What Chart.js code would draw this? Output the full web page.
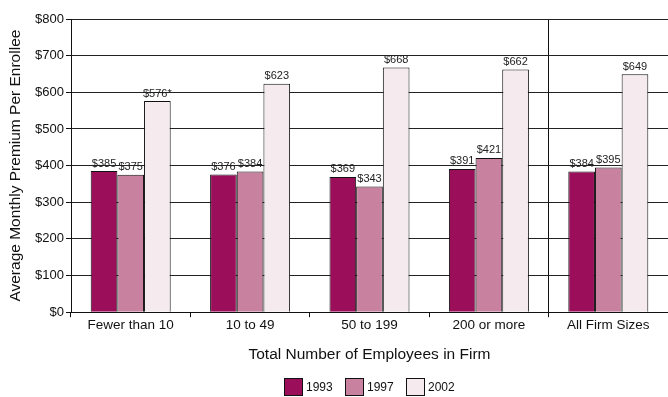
<!DOCTYPE html>
<html>
<head>
<meta charset="utf-8">
<script src="https://cdn.jsdelivr.net/npm/chart.js@4"></script>
<style>
  html, body { margin: 0; padding: 0; background: #fff; }
  #wrap { width: 668px; height: 397px; }
</style>
</head>
<body>
<div id="wrap"><canvas id="c" width="668" height="397"></canvas></div>
<script>
const categories = ['Fewer than 10', '10 to 49', '50 to 199', '200 or more', 'All Firm Sizes'];
const values1993 = [385, 376, 369, 391, 384];
const values1997 = [375, 384, 343, 421, 395];
const values2002 = [576, 623, 668, 662, 649];
const labelSuffix2002 = ['*', '', '', '', ''];
const yTicks = [0, 100, 200, 300, 400, 500, 600, 700, 800];

const FONT = 'Arial, "Liberation Sans", sans-serif';

// Draws "$value" above each bar
const valueLabels = {
  id: 'valueLabels',
  afterDatasetsDraw(chart) {
    const ctx = chart.ctx;
    ctx.save();
    ctx.font = '11px ' + FONT;
    ctx.fillStyle = '#222';
    ctx.textAlign = 'center';
    ctx.textBaseline = 'bottom';
    chart.data.datasets.forEach((ds, di) => {
      const meta = chart.getDatasetMeta(di);
      meta.data.forEach((bar, i) => {
        const suffix = di === 2 ? labelSuffix2002[i] : '';
        ctx.fillText('$' + ds.data[i] + suffix, bar.x, bar.y - 2);
      });
    });
    ctx.restore();
  }
};

// Legend row at the bottom, centred under the plot area
const bottomLegend = {
  id: 'bottomLegend',
  afterDraw(chart) {
    const ctx = chart.ctx;
    const area = chart.chartArea;
    const boxW = 19, boxH = 18, textGap = 3, step = 61;
    ctx.save();
    ctx.font = '12px ' + FONT;
    const sets = chart.data.datasets;
    const lastW = ctx.measureText(sets[sets.length - 1].label).width;
    const total = step * (sets.length - 1) + boxW + textGap + lastW;
    let x = Math.round((area.left + area.right) / 2 - total / 2);
    const y = chart.height - boxH - 1;
    sets.forEach((ds) => {
      ctx.fillStyle = ds.backgroundColor;
      ctx.fillRect(x + 0.5, y + 0.5, boxW - 1, boxH - 1);
      ctx.strokeStyle = '#111';
      ctx.lineWidth = 1;
      ctx.strokeRect(x + 0.5, y + 0.5, boxW - 1, boxH - 1);
      ctx.fillStyle = '#111';
      ctx.textAlign = 'left';
      ctx.textBaseline = 'middle';
      ctx.fillText(ds.label, x + boxW + textGap, y + boxH / 2 + 1);
      x += step;
    });
    ctx.restore();
  }
};

new Chart(document.getElementById('c'), {
  type: 'bar',
  data: {
    labels: categories,
    datasets: [
      { label: '1993', data: values1993, backgroundColor: '#9b0e5a' },
      { label: '1997', data: values1997, backgroundColor: '#c8819f' },
      { label: '2002', data: values2002, backgroundColor: '#f5ebef' }
    ]
  },
  options: {
    responsive: false,
    animation: false,
    devicePixelRatio: 1,
    layout: { padding: { left: 4, right: 0, top: 19, bottom: 29 } },
    datasets: {
      bar: {
        borderColor: '#111',
        borderWidth: 1,
        categoryPercentage: 0.67,
        barPercentage: 1.0
      }
    },
    scales: {
      x: {
        offset: true,
        grid: {
          offset: true,
          drawOnChartArea: true,
          color: (c) => c.index === 4 ? '#111' : 'rgba(0,0,0,0)',
          tickColor: '#111',
          tickLength: 5
        },
        border: { color: '#111' },
        ticks: { color: '#111', font: { family: FONT, size: 13.5 }, padding: 0 },
        title: {
          display: true,
          text: 'Total Number of Employees in Firm',
          color: '#111',
          font: { family: FONT, size: 15.5 },
          padding: { top: 12, bottom: 4 }
        }
      },
      y: {
        min: 0,
        max: 800,
        afterBuildTicks: (s) => { s.ticks = yTicks.map(v => ({ value: v })); },
        afterFit: (s) => { s.width = 67; },
        grid: { color: '#222', tickColor: '#111', tickLength: 5 },
        border: { color: '#111' },
        ticks: {
          color: '#111',
          font: { family: FONT, size: 13 },
          padding: 2,
          callback: (v) => '$' + v
        },
        title: {
          display: true,
          text: 'Average Monthly Premium Per Enrollee',
          color: '#111',
          font: { family: FONT, size: 15.5 },
          padding: { top: 2, bottom: 4 }
        }
      }
    },
    plugins: {
      legend: { display: false },
      tooltip: { enabled: false }
    }
  },
  plugins: [valueLabels, bottomLegend]
});
</script>
</body>
</html>
